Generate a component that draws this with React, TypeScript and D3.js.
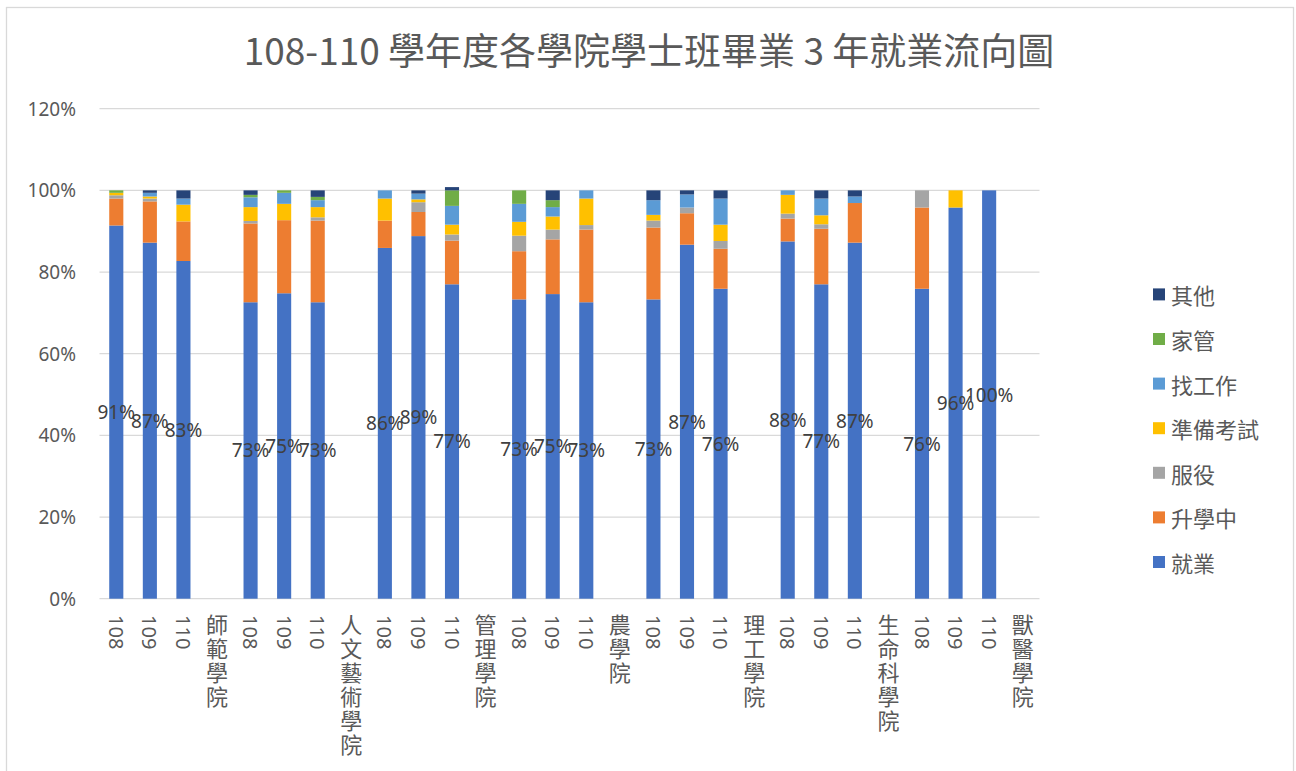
import React from 'react';
import * as d3 from 'd3';

const categories = [
  '108', '109', '110', '師範學院',
  '108', '109', '110', '人文藝術學院',
  '108', '109', '110', '管理學院',
  '108', '109', '110', '農學院',
  '108', '109', '110', '理工學院',
  '108', '109', '110', '生命科學院',
  '108', '109', '110', '獸醫學院',
];

const seriesNames = ['就業', '升學中', '服役', '準備考試', '找工作', '家管', '其他'];

const employed = [91.4, 87.2, 82.7, 0, 72.6, 74.8, 72.6, 0, 85.9, 88.8, 77.0, 0, 73.3, 74.6, 72.6, 0, 73.3, 86.7, 75.9, 0, 87.5, 77.0, 87.2, 0, 75.9, 95.8, 100, 0];
const furtherStudy = [6.6, 10.1, 9.7, 0, 19.3, 17.9, 20.0, 0, 6.7, 5.9, 10.7, 0, 11.8, 13.4, 17.8, 0, 17.6, 7.7, 9.8, 0, 5.6, 13.6, 9.7, 0, 19.9, 0, 0, 0];
const military = [0.8, 0.7, 0, 0, 0.6, 0, 0.8, 0, 0, 2.4, 1.5, 0, 3.8, 2.4, 1.1, 0, 1.7, 1.4, 1.9, 0, 1.2, 1.1, 0, 0, 4.2, 0, 0, 0];
const examPrep = [0.6, 0.5, 4.1, 0, 3.4, 4.0, 2.5, 0, 5.4, 0.7, 2.4, 0, 3.4, 3.2, 6.5, 0, 1.4, 0, 4.0, 0, 4.6, 2.2, 0, 0, 0, 4.2, 0, 0];
const jobSeeking = [0, 0.9, 1.5, 0, 2.4, 2.7, 1.7, 0, 2.0, 1.4, 4.6, 0, 4.4, 2.3, 2.0, 0, 3.6, 3.2, 6.4, 0, 1.1, 4.1, 1.6, 0, 0, 0, 0, 0];
const homemaker = [0.6, 0, 0, 0, 0.6, 0.6, 0.8, 0, 0, 0, 3.8, 0, 3.3, 1.7, 0, 0, 0, 0, 0, 0, 0, 0, 0, 0, 0, 0, 0, 0];
const other = [0, 0.6, 2.0, 0, 1.1, 0, 1.6, 0, 0, 0.8, 0.8, 0, 0, 2.4, 0, 0, 2.4, 1.0, 2.0, 0, 0, 2.0, 1.5, 0, 0, 0, 0, 0];

const seriesValues = [employed, furtherStudy, military, examPrep, jobSeeking, homemaker, other];
const colors = ['#4472C4', '#ED7D31', '#A5A5A5', '#FFC000', '#5B9BD5', '#70AD47', '#264478'];
const yTicks = [0, 20, 40, 60, 80, 100, 120];

const W = 1296;
const H = 771;
const M = { left: 99.5, right: 1039.5, top: 108.7, bottom: 598.7 };
const LATIN = '"Noto Sans", "Open Sans", sans-serif';
const CJK = '"Noto Sans CJK TC", "Noto Sans CJK SC", sans-serif';
const TXT = '#595959';

export default function App() {
  const idx = categories.map((_, i) => i);
  const x = d3.scaleBand<number>().domain(idx).range([M.left, M.right]).paddingInner(0.58).paddingOuter(0.29);
  const y = d3.scaleLinear().domain([0, 120]).range([M.bottom, M.top]);

  const rows = idx.map((i) => {
    const r: Record<string, number> = { i };
    seriesNames.forEach((s, k) => { r[s] = seriesValues[k][i]; });
    return r;
  });
  const stacked = d3.stack<Record<string, number>>().keys(seriesNames)(rows);

  const isYear = (c: string) => /^\d+$/.test(c);

  return (
    <svg width={W} height={H} style={{ position: 'absolute', left: 0, top: 0, background: '#fff' }}>
      <rect x={6.5} y={7.5} width={1287} height={800} fill="#fff" stroke="#d9d9d9" strokeWidth={1.3} />
      <text x={649} y={65} textAnchor="middle" fontFamily={CJK} fontSize={37} fill={TXT}>
        108-110 學年度各學院學士班畢業 3 年就業流向圖
      </text>
      {yTicks.map((t) => (
        <g key={t}>
          <line x1={M.left} x2={M.right} y1={y(t)} y2={y(t)} stroke="#d9d9d9" strokeWidth={1.3} />
          <text x={76} y={y(t)} textAnchor="end" dominantBaseline="central" fontFamily={LATIN} fontSize={19} fill={TXT}>
            {t}%
          </text>
        </g>
      ))}
      {stacked.map((layer, k) => (
        <g key={seriesNames[k]} fill={colors[k]}>
          {layer.map((d, i) =>
            d[1] - d[0] > 0 ? (
              <rect key={i} x={x(i)} width={x.bandwidth()} y={y(d[1])} height={y(d[0]) - y(d[1])} />
            ) : null
          )}
        </g>
      ))}
      {employed.map((v, i) =>
        v > 0 ? (
          <text key={i} x={(x(i) as number) + x.bandwidth() / 2} y={y(v / 2)} textAnchor="middle" dominantBaseline="central"
            fontFamily={LATIN} fontSize={19} fill="#404040">
            {Math.round(v)}%
          </text>
        ) : null
      )}
      {categories.map((c, i) => {
        const cx = (x(i) as number) + x.bandwidth() / 2;
        if (isYear(c)) {
          return (
            <text key={i} transform={`translate(${cx},615) rotate(90)`} textAnchor="start" dominantBaseline="central"
              fontFamily={LATIN} fontSize={20} fill={TXT}>
              {c}
            </text>
          );
        }
        return (
          <g key={i}>
            {Array.from(c).map((ch, j) => (
              <text key={j} x={cx} y={633 + j * 24} textAnchor="middle" fontFamily={CJK} fontSize={22} fill={TXT}>
                {ch}
              </text>
            ))}
          </g>
        );
      })}
      {seriesNames.map((s, k) => {
        const ly = 562 - k * 44.6;
        return (
          <g key={s}>
            <rect x={1153} y={ly - 6} width={12} height={12} fill={colors[k]} />
            <text x={1171} y={ly} dominantBaseline="central" fontFamily={CJK} fontSize={22} fill={TXT}>
              {s}
            </text>
          </g>
        );
      })}
    </svg>
  );
}
